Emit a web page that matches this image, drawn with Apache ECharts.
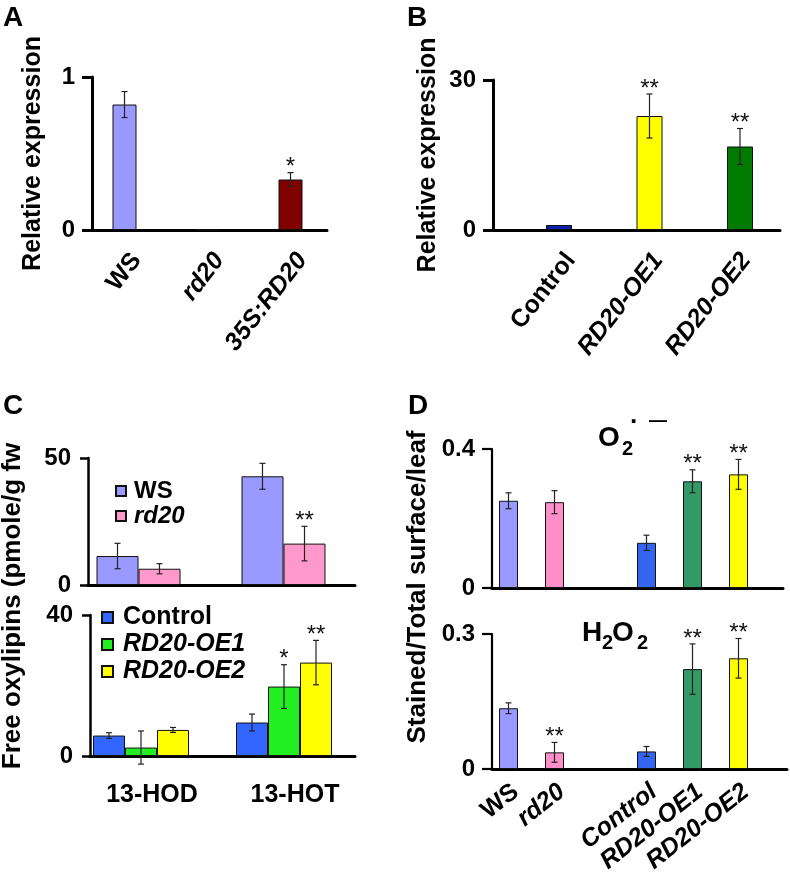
<!DOCTYPE html>
<html><head><meta charset="utf-8">
<script src="https://cdn.jsdelivr.net/npm/echarts@6/dist/echarts.min.js"></script>
<style>html,body{margin:0;padding:0;background:#fff}#c{width:790px;height:882px}</style>
</head><body><div id="c"></div>
<script>
// ---------------- DATA ----------------
// Panel A
const aCats = ['WS', 'rd20', '35S:RD20'];
const aVals = [0.82, 0, 0.33];
const aErr  = [0.085, 0, 0.045];
const aSig  = ['', '', '*'];
const aTicks = [0, 1];
// Panel B
const bCats = ['Control', 'RD20-OE1', 'RD20-OE2'];
const bVals = [1, 22.8, 16.7];
const bErr  = [0, 4.4, 3.6];
const bSig  = ['', '**', '**'];
const bTicks = [0, 30];
// Panel C
const cCats = ['13-HOD', '13-HOT'];
const cWS       = [11.4, 42.8];
const cWSErr    = [5.0, 5.1];
const cWSSig    = ['', ''];
const cRd20     = [6.4, 16.3];
const cRd20Err  = [2.0, 6.8];
const cRd20Sig  = ['', '**'];
const cTopTicks = [0, 50];
const cControl    = [5.8, 9.5];
const cControlErr = [0.8, 2.4];
const cControlSig = ['', ''];
const cOE1     = [2.4, 19.7];
const cOE1Err  = [4.7, 6.2];
const cOE1Sig  = ['', '*'];
const cOE2     = [7.4, 26.5];
const cOE2Err  = [0.7, 6.3];
const cOE2Sig  = ['', '**'];
const cBotTicks = [0, 40];
// Panel D
const dCats = ['WS', 'rd20', '', 'Control', 'RD20-OE1', 'RD20-OE2'];
const dO2      = [0.251, 0.247, null, 0.130, 0.307, 0.327];
const dO2Err   = [0.023, 0.033, null, 0.022, 0.033, 0.043];
const dO2Sig   = ['', '', '', '', '**', '**'];
const dO2Ticks = [0, 0.4];
const dH2O2    = [0.135, 0.037, null, 0.039, 0.222, 0.246];
const dH2O2Err = [0.012, 0.022, null, 0.011, 0.056, 0.044];
const dH2O2Sig = ['', '**', '', '', '**', '**'];
const dH2O2Ticks = [0, 0.3];

// ---------------- STYLE ----------------
const FONT = '"Liberation Sans", Arial, Helvetica, sans-serif';
const aColors = ['#9999ff', '#ff99cc', '#800000'];
const bColors = ['#0c22a8', '#ffff00', '#007a00'];
const cColors = {WS: '#9999ff', rd20: '#ff99cc', Control: '#3366ff', OE1: '#22ee22', OE2: '#ffff00'};
const dColors = ['#9999ff', '#ff8fc8', '#ffffff', '#3366ee', '#339966', '#ffff00'];
const aItalic = ['rd20', '35S:RD20'];
const bItalic = ['RD20-OE1', 'RD20-OE2'];
const dItalic = ['rd20', 'Control', 'RD20-OE1', 'RD20-OE2'];

const grid = [], xAxis = [], yAxis = [], series = [], graphic = [];

function addFrame(box, ticks, o) {
  const k = grid.length;
  grid.push(Object.assign({}, box));
  xAxis.push({gridIndex: k, type: 'value', min: 0, max: 1,
    axisLine: {show: true, onZero: false, lineStyle: {color: '#000', width: o.xw || 3}},
    axisTick: {show: false}, axisLabel: {show: false}, splitLine: {show: false}});
  yAxis.push({gridIndex: k, type: 'value', min: ticks[0], max: ticks[1], interval: ticks[1] - ticks[0],
    axisLine: {show: true, lineStyle: {color: '#000', width: o.yw || 3}},
    axisTick: {show: true, length: o.tick || 10, lineStyle: {color: '#000', width: o.yw || 3}},
    axisLabel: {color: '#000', fontFamily: FONT, fontSize: 24, fontWeight: 'bold', margin: o.margin || 17},
    splitLine: {show: false},
    name: o.name || '', nameLocation: 'middle', nameRotate: 90, nameGap: o.nameGap || 48,
    nameTextStyle: {color: '#000', fontFamily: FONT, fontSize: 25, fontWeight: 'bold'}});
  return k;
}
function addData(box, cats, ticks) {
  const k = grid.length;
  grid.push(Object.assign({}, box));
  xAxis.push({gridIndex: k, type: 'category', data: cats, show: false});
  yAxis.push({gridIndex: k, type: 'value', min: ticks[0], max: ticks[1], show: false});
  return k;
}
function addLabels(box, cats, ticks, italic, lab) {
  const k = grid.length;
  grid.push(Object.assign({}, box));
  xAxis.push({gridIndex: k, type: 'category',
    data: cats.map(c => ({value: c, textStyle: {fontStyle: italic.indexOf(c) >= 0 ? 'italic' : 'normal'}})),
    axisLine: {show: false}, axisTick: {show: false},
    axisLabel: Object.assign({color: '#000', fontFamily: FONT, fontSize: 25, fontWeight: 'bold', interval: 0}, lab)});
  yAxis.push({gridIndex: k, type: 'value', min: ticks[0], max: ticks[1], show: false});
  return k;
}
function barSeries(k, name, vals, colors, width) {
  const multi = Array.isArray(colors);
  const st = {borderColor: '#111', borderWidth: 1};
  if (!multi) st.color = colors;
  return {type: 'bar', name: name, xAxisIndex: k, yAxisIndex: k, barWidth: width, barGap: '0%',
    itemStyle: st,
    data: vals.map((v, i) => multi ? {value: v, itemStyle: {color: colors[i]}} : v)};
}
function errSeries(k, vals, errs, sigs, offset) {
  return {type: 'custom', xAxisIndex: k, yAxisIndex: k, silent: true, z: 10,
    data: vals.map((v, i) => [i, v == null ? NaN : v, errs[i] == null ? 0 : errs[i]]),
    renderItem: function (params, api) {
      const i = api.value(0), v = api.value(1), e = api.value(2);
      if (isNaN(v)) return;
      const top = api.coord([i, v + e]);
      const bot = api.coord([i, v - e]);
      const x = top[0] + offset;
      const ch = [];
      const ls = {stroke: '#222', lineWidth: 1.2};
      if (e > 0) {
        ch.push({type: 'line', shape: {x1: x, y1: top[1], x2: x, y2: bot[1]}, style: ls});
        ch.push({type: 'line', shape: {x1: x - 3, y1: top[1], x2: x + 3, y2: top[1]}, style: ls});
        ch.push({type: 'line', shape: {x1: x - 3, y1: bot[1], x2: x + 3, y2: bot[1]}, style: ls});
      }
      const s = sigs[params.dataIndex];
      if (s) ch.push({type: 'text', style: {text: s, x: x, y: top[1] - 5, align: 'center', verticalAlign: 'middle',
        font: '24px ' + FONT, fill: '#111'}});
      return {type: 'group', children: ch};
    }};
}

// ---------------- PANEL A ----------------
addFrame({left: 92, top: 77, width: 235, height: 153}, aTicks, {name: 'Relative expression', nameGap: 46});
let k = addData({left: 83, top: 77, width: 249, height: 153}, aCats, aTicks);
series.push(barSeries(k, 'A', aVals, aColors, 24));
series.push(errSeries(k, aVals, aErr, aSig, 0));
addLabels({left: 95, top: 77, width: 249, height: 153}, aCats, aTicks, aItalic, {rotate: 52, margin: 26});

// ---------------- PANEL B ----------------
addFrame({left: 493, top: 80, width: 287, height: 150}, bTicks, {name: 'Relative expression', nameGap: 52});
k = addData({left: 513.75, top: 80, width: 271.5, height: 150}, bCats, bTicks);
series.push(barSeries(k, 'B', bVals, bColors, 26));
series.push(errSeries(k, bVals, bErr, bSig, 0));
addLabels({left: 527, top: 80, width: 271.5, height: 150}, bCats, bTicks, bItalic, {rotate: 52, margin: 26});

// ---------------- PANEL C ----------------
addFrame({left: 88, top: 458, width: 267, height: 127}, cTopTicks, {tick: 8, yw: 2.5});
k = addData({left: 66, top: 458, width: 290, height: 127}, cCats, cTopTicks);
series.push(barSeries(k, 'WS', cWS, cColors.WS, 42));
series.push(barSeries(k, 'rd20', cRd20, cColors.rd20, 42));
series.push(errSeries(k, cWS, cWSErr, cWSSig, -21));
series.push(errSeries(k, cRd20, cRd20Err, cRd20Sig, 21));

addFrame({left: 90, top: 615, width: 265, height: 141}, cBotTicks, {tick: 8, yw: 2.5});
k = addData({left: 69.5, top: 615, width: 286, height: 141}, cCats, cBotTicks);
series.push(barSeries(k, 'Control', cControl, cColors.Control, 32));
series.push(barSeries(k, 'RD20-OE1', cOE1, cColors.OE1, 32));
series.push(barSeries(k, 'RD20-OE2', cOE2, cColors.OE2, 32));
series.push(errSeries(k, cControl, cControlErr, cControlSig, -32));
series.push(errSeries(k, cOE1, cOE1Err, cOE1Sig, 0));
series.push(errSeries(k, cOE2, cOE2Err, cOE2Sig, 32));
addLabels({left: 80.5, top: 615, width: 286, height: 141}, cCats, cBotTicks, [], {margin: 27});

// ---------------- PANEL D ----------------
addFrame({left: 492, top: 449, width: 291, height: 139}, dO2Ticks, {yw: 2.2});
k = addData({left: 485.5, top: 449, width: 276, height: 139}, dCats, dO2Ticks);
series.push(barSeries(k, 'O2', dO2, dColors, 19));
series.push(errSeries(k, dO2, dO2Err, dO2Sig, 0));

addFrame({left: 492, top: 634, width: 295, height: 135}, dH2O2Ticks, {yw: 2.2});
k = addData({left: 485.5, top: 634, width: 276, height: 135}, dCats, dH2O2Ticks);
series.push(barSeries(k, 'H2O2', dH2O2, dColors, 19));
series.push(errSeries(k, dH2O2, dH2O2Err, dH2O2Sig, 0));
addLabels({left: 493, top: 634, width: 276, height: 135}, dCats, dH2O2Ticks, dItalic, {rotate: 38, margin: 20});

// ---------------- TEXT ----------------
function txt(t, x, y, size, extra) {
  graphic.push(Object.assign({type: 'text', x: x, y: y, style: {text: t, font: 'bold ' + size + 'px ' + FONT,
    fill: '#000', align: 'left', verticalAlign: 'middle'}}, extra || {}));
}
txt('A', 3, 18, 28); txt('B', 407, 18, 28); txt('C', 3, 406, 28); txt('D', 408, 406, 28);
graphic.push({type: 'text', x: 13, y: 606, rotation: Math.PI / 2,
  style: {text: 'Free oxylipins (pmole/g fw', font: 'bold 26px ' + FONT, fill: '#000', align: 'center', verticalAlign: 'middle'}});
graphic.push({type: 'text', x: 418, y: 587, rotation: Math.PI / 2,
  style: {text: 'Stained/Total surface/leaf', font: 'bold 26px ' + FONT, fill: '#000', align: 'center', verticalAlign: 'middle'}});
// O2 superoxide
txt('O', 598, 438, 28); txt('2', 622, 449, 20); txt('·', 630, 423, 26); txt('—', 649, 421, 18);
// H2O2
txt('H', 582, 633, 28); txt('2', 602, 643, 20); txt('O', 612, 633, 28); txt('2', 637, 643, 20);

const chart = echarts.init(document.getElementById('c'), null, {renderer: 'canvas'});
chart.setOption({
  animation: false,
  backgroundColor: '#fff',
  grid: grid, xAxis: xAxis, yAxis: yAxis, series: series, graphic: graphic,
  legend: [
    {data: [{name: 'WS'}, {name: 'rd20', textStyle: {fontStyle: 'italic'}}],
     orient: 'vertical', left: 115, top: 479, padding: 0, itemGap: 1, itemWidth: 10, itemHeight: 10,
     icon: 'rect', selectedMode: false,
     textStyle: {color: '#000', fontFamily: FONT, fontSize: 24, fontWeight: 'bold', lineHeight: 19, padding: [0, 0, 0, 3]}},
    {data: [{name: 'Control'}, {name: 'RD20-OE1', textStyle: {fontStyle: 'italic'}}, {name: 'RD20-OE2', textStyle: {fontStyle: 'italic'}}],
     orient: 'vertical', left: 101, top: 604, padding: 0, itemGap: 0, itemWidth: 11, itemHeight: 11,
     icon: 'rect', selectedMode: false,
     textStyle: {color: '#000', fontFamily: FONT, fontSize: 25, fontWeight: 'bold', lineHeight: 27, padding: [0, 0, 0, 5]}}
  ]
});
</script></body></html>
